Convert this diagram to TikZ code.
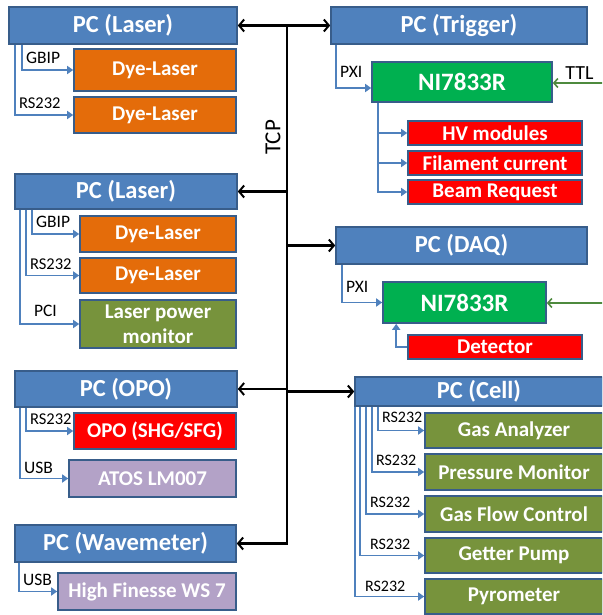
\documentclass[tikz,border=0pt]{standalone}
\usepackage{fontspec}
\setmainfont{Carlito}
\usetikzlibrary{arrows.meta}

\definecolor{pcblue}{HTML}{4F81BD}
\definecolor{boxline}{HTML}{385D8A}
\definecolor{dyeorange}{HTML}{E46C0A}
\definecolor{nigreen}{HTML}{00B050}
\definecolor{devred}{HTML}{FF0000}
\definecolor{devolive}{HTML}{77933C}
\definecolor{devlilac}{HTML}{B3A2C7}
\definecolor{ttlgreen}{HTML}{4E8A3E}

\begin{document}
\begin{tikzpicture}[x=1pt,y=-1pt,
  box/.style={draw=boxline,line width=1.6pt,fill=#1,text=white,inner sep=0pt,
    align=center,font=\fontsize{21}{25}\selectfont\bfseries},
  pc/.style={box=pcblue,font=\fontsize{24.5}{26}\selectfont\bfseries},
  ni/.style={box=nigreen,font=\fontsize{25}{26}\selectfont\bfseries},
  link/.style={pcblue,line width=1.8pt,-{Triangle[length=6pt,width=8pt]}},
  tcp/.style={black,line width=2.4pt,-{Straight Barb[length=5pt,width=12pt,line width=2pt]}},
  sig/.style={ttlgreen,line width=1.8pt,-{Straight Barb[length=4pt,width=9pt,line width=1.6pt]}},
  lbl/.style={text=black,font=\fontsize{17.5}{19}\selectfont,anchor=south west,inner xsep=3pt,inner ysep=5pt}]
  \useasboundingbox (0,0) rectangle (602,615);
  \clip (0,0) rectangle (602,615);

  % laser PC with two dye lasers
  \node[pc,minimum width=228pt,minimum height=37pt] (pclaserA) at (123,25.5) {PC (Laser)};
  \node[box=dyeorange,minimum width=162pt,minimum height=42pt] (dyeA1) at (155,70) {Dye-Laser};
  \node[box=dyeorange,minimum width=162pt,minimum height=36pt] (dyeA2) at (155,115) {Dye-Laser};
  \draw[link] ([xshift=14pt]pclaserA.south west) |- node[lbl]{GBIP} (dyeA1);
  \draw[link] ([xshift=7pt]pclaserA.south west) |- node[lbl,font=\fontsize{16.5}{18}\selectfont]{RS232} (dyeA2);

  % trigger PC
  \node[pc,minimum width=256pt,minimum height=37pt] (pctrig) at (459,25.5) {PC (Trigger)};
  \node[ni,minimum width=180pt,minimum height=40pt] (niA) at (462,82) {NI7833R};
  \node[box=devred,minimum width=174pt,minimum height=24pt] (hv) at (495,133) {HV modules};
  \node[box=devred,minimum width=174pt,minimum height=24pt] (fil) at (495,163) {Filament current};
  \node[box=devred,minimum width=174pt,minimum height=24pt] (beam) at (495,192) {Beam Request};
  \draw[link] ([xshift=6pt]pctrig.south west) |- node[lbl,yshift=5pt]{PXI} ([yshift=-6pt]niA.west);
  \draw[link] ([xshift=7pt]niA.south west) |- (hv);
  \draw[link] ([xshift=7pt]niA.south west) |- (fil);
  \draw[link] ([xshift=7pt]niA.south west) |- (beam);
  \coordinate (ttlA) at (606,83);
  \draw[sig] (ttlA) -- node[above,text=black,font=\fontsize{20}{21}\selectfont,inner sep=3pt]{TTL} (ttlA -| niA.east);

  % second laser PC
  \node[pc,minimum width=222pt,minimum height=35pt] (pclaserB) at (126,191.5) {PC (Laser)};
  \node[box=dyeorange,minimum width=156pt,minimum height=36pt] (dyeB1) at (158,234) {Dye-Laser};
  \node[box=dyeorange,minimum width=156pt,minimum height=35pt] (dyeB2) at (158,275.5) {Dye-Laser};
  \node[box=devolive,minimum width=156pt,minimum height=48pt] (lpm) at (158,324) {Laser power\\monitor};
  \draw[link] ([xshift=18pt]pclaserB.south west) |- node[lbl]{GBIP} (dyeB1);
  \draw[link] ([xshift=12pt]pclaserB.south west) |- node[lbl,font=\fontsize{16.5}{18}\selectfont]{RS232} (dyeB2);
  \draw[link] ([xshift=6pt]pclaserB.south west) |- node[lbl,xshift=10pt,yshift=1pt]{PCI} (lpm);

  % DAQ PC
  \node[pc,minimum width=251pt,minimum height=37pt] (pcdaq) at (461.5,245.5) {PC (DAQ)};
  \node[ni,minimum width=163pt,minimum height=41pt] (niB) at (464.5,302.5) {NI7833R};
  \node[box=devred,minimum width=174pt,minimum height=24pt] (det) at (495,347) {Detector};
  \draw[link] ([xshift=7pt]pcdaq.south west) |- node[lbl,yshift=4pt]{PXI} (niB);
  \draw[link] (det) -| ([xshift=14pt]niB.south west);
  \coordinate (ttlB) at (606,303);
  \draw[sig] (ttlB) -- (ttlB -| niB.east);

  % OPO PC
  \node[pc,minimum width=222pt,minimum height=36pt] (pcopo) at (126,389) {PC (OPO)};
  \node[box=devred,minimum width=162pt,minimum height=36pt] (opo) at (155,431) {OPO (SHG/SFG)};
  \node[box=devlilac,minimum width=167pt,minimum height=37pt] (atos) at (152.5,478.5) {ATOS LM007};
  \draw[link] ([xshift=12pt]pcopo.south west) |- node[lbl,font=\fontsize{16.5}{18}\selectfont]{RS232} (opo);
  \draw[link] ([xshift=6pt]pcopo.south west) |- node[lbl,yshift=-1pt]{USB} (atos);

  % wavemeter PC
  \node[pc,minimum width=221pt,minimum height=37pt] (pcwave) at (125.5,543.5) {PC (Wavemeter)};
  \node[box=devlilac,minimum width=178pt,minimum height=37pt] (hfws) at (147,591.5) {High Finesse WS 7};
  \draw[link] ([xshift=5pt]pcwave.south west) |- node[lbl]{USB} (hfws);

  % cell PC
  \node[pc,minimum width=248pt,minimum height=29pt] (pccell) at (479,391.5) {PC (Cell)};
  \node[box=devolive,minimum width=178pt,minimum height=35pt] (gas) at (514,430.5) {Gas Analyzer};
  \node[box=devolive,minimum width=178pt,minimum height=36pt] (press) at (514,472) {Pressure Monitor};
  \node[box=devolive,minimum width=178pt,minimum height=36pt] (flow) at (514,514) {Gas Flow Control};
  \node[box=devolive,minimum width=178pt,minimum height=35pt] (getter) at (514,555.5) {Getter Pump};
  \node[box=devolive,minimum width=178pt,minimum height=35pt] (pyro) at (514,596.5) {Pyrometer};
  \tikzset{cellrs/.style={lbl,font=\fontsize{16}{18}\selectfont}}
  \draw[link] ([xshift=24pt]pccell.south west) |- node[cellrs,yshift=2pt]{RS232} (gas);
  \draw[link] ([xshift=18pt]pccell.south west) |- node[cellrs]{RS232} (press);
  \draw[link] ([xshift=12pt]pccell.south west) |- node[cellrs]{RS232} (flow);
  \draw[link] ([xshift=6pt]pccell.south west) |- node[cellrs,xshift=6pt]{RS232} (getter);
  \draw[link] ([xshift=1pt]pccell.south west) |- node[cellrs,xshift=6pt,yshift=-1pt]{RS232} (pyro);

  % TCP network
  \coordinate (busTop) at (287,25.5);
  \draw[tcp,{Straight Barb[length=5pt,width=12pt,line width=2pt]}-{Straight Barb[length=5pt,width=12pt,line width=2pt]}] (pclaserA) -- (pctrig);
  \draw[tcp] (busTop) |- (pcwave);
  \draw[tcp] (busTop |- pclaserB) -- (pclaserB);
  \draw[tcp] (busTop |- pcdaq) -- (pcdaq);
  \draw[tcp] (busTop |- pcopo) -- (pcopo);
  \draw[tcp] (busTop |- pccell) -- (pccell);
  \node[rotate=90,font=\fontsize{23}{24}\selectfont] (tcplbl) at (273,137.5) {TCP};
\end{tikzpicture}
\end{document}
